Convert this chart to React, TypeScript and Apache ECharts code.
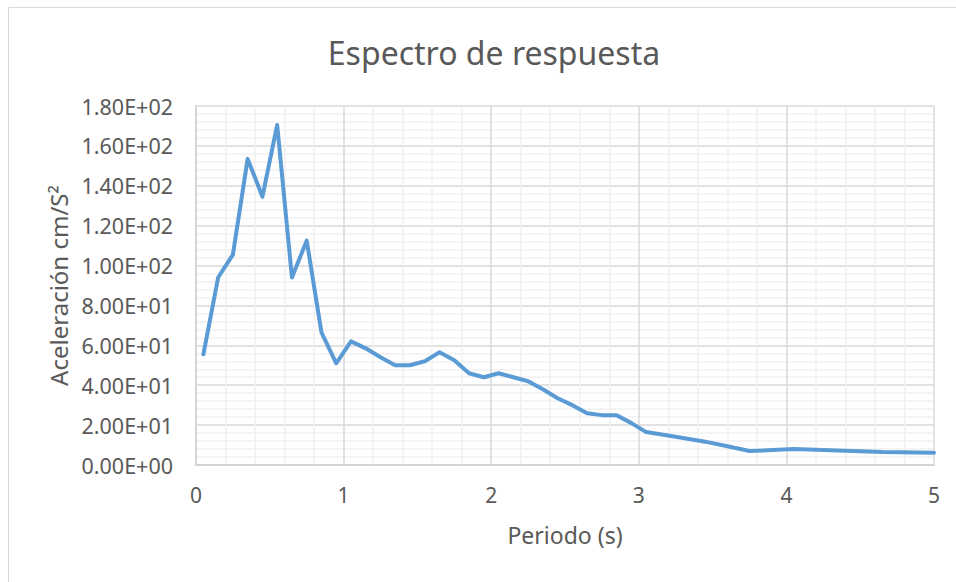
import React, { useEffect, useRef } from "react";
import * as echarts from "echarts";

const periods = [
  0.05, 0.15, 0.25, 0.35, 0.45, 0.55, 0.65, 0.75, 0.85, 0.95,
  1.05, 1.15, 1.25, 1.35, 1.45, 1.55, 1.65, 1.75, 1.85, 1.95,
  2.05, 2.15, 2.25, 2.35, 2.45, 2.55, 2.65, 2.75, 2.85, 2.95,
  3.05, 3.25, 3.45, 3.6, 3.75, 4.05, 4.25, 4.65, 5.0,
];
const accel = [
  55.5, 94, 105.5, 153.5, 134.5, 170.5, 94, 112.5, 66.5, 51,
  62, 58.5, 54, 50, 50, 52, 56.5, 52.5, 46, 44,
  46, 44, 42, 38, 33.5, 30, 26, 25, 25, 21,
  16.5, 14.2, 11.7, 9.4, 7, 8, 7.5, 6.5, 6.2,
];
const xTicks = [0, 1, 2, 3, 4, 5];

const title = "Espectro de respuesta";
const xName = "Periodo (s)";
const yName = "Aceleración cm/S²";

function sci(v: number): string {
  const [m, e] = v.toExponential(2).split("e");
  const sign = e[0] === "-" ? "-" : "+";
  const digits = e.replace(/^[+-]/, "").padStart(2, "0");
  return `${m}E${sign}${digits}`;
}

export default function App() {
  const ref = useRef<HTMLDivElement>(null);
  useEffect(() => {
    if (!ref.current) return;
    const chart = echarts.init(ref.current, null, { renderer: "svg" });
    const font = "'Noto Sans', sans-serif";
    chart.setOption({
      animation: false,
      backgroundColor: "#ffffff",
      textStyle: { fontFamily: font },
      title: {
        text: title,
        left: 489,
        textAlign: "center",
        top: 31,
        textStyle: { fontFamily: font, fontSize: 32, fontWeight: "normal", color: "#595959" },
      },
      graphic: [
        {
          type: "rect",
          shape: { x: 8.5, y: 7.5, width: 970, height: 600 },
          style: { fill: "none", stroke: "#d9d9d9", lineWidth: 1 },
          silent: true,
          z: -1,
        },
      ],
      grid: { left: 196, right: 22, top: 106, bottom: 117, containLabel: false },
      xAxis: {
        type: "value",
        min: 0,
        max: 5,
        interval: 1,
        name: xName,
        nameLocation: "middle",
        nameGap: 58,
        nameTextStyle: { fontFamily: font, fontSize: 23, color: "#595959" },
        axisLine: { show: true, lineStyle: { color: "#d0d0d0", width: 1.5 } },
        axisTick: { show: false },
        axisLabel: {
          fontFamily: font,
          fontSize: 21,
          color: "#595959",
          margin: 19,
          formatter: (v: number) => (xTicks.includes(v) ? String(v) : ""),
        },
        splitLine: { show: true, lineStyle: { color: "#d9d9d9", width: 1.5 } },
        minorTick: { show: false, splitNumber: 5 },
        minorSplitLine: { show: true, lineStyle: { color: "#f0f0f0", width: 1.5 } },
      },
      yAxis: {
        type: "value",
        min: 0,
        max: 180,
        interval: 20,
        name: yName,
        nameLocation: "middle",
        nameGap: 123,
        nameTextStyle: { fontFamily: font, fontSize: 24, color: "#595959" },
        axisLine: { show: true, lineStyle: { color: "#d0d0d0", width: 1.5 } },
        axisTick: { show: false },
        axisLabel: {
          fontFamily: font,
          fontSize: 21.5,
          color: "#595959",
          margin: 23,
          formatter: (v: number) => sci(v),
        },
        splitLine: { show: true, lineStyle: { color: "#d9d9d9", width: 1.5 } },
        minorTick: { show: false, splitNumber: 5 },
        minorSplitLine: { show: true, lineStyle: { color: "#f0f0f0", width: 1.5 } },
      },
      series: [
        {
          type: "line",
          data: periods.map((p, i) => [p, accel[i]]),
          showSymbol: false,
          symbol: "none",
          lineStyle: { color: "#5b9bd5", width: 4, join: "round", cap: "round" },
          z: 5,
        },
      ],
    });
    return () => chart.dispose();
  }, []);
  return (
    <div
      ref={ref}
      style={{ position: "fixed", left: 0, top: 0, width: 956, height: 582 }}
    />
  );
}
